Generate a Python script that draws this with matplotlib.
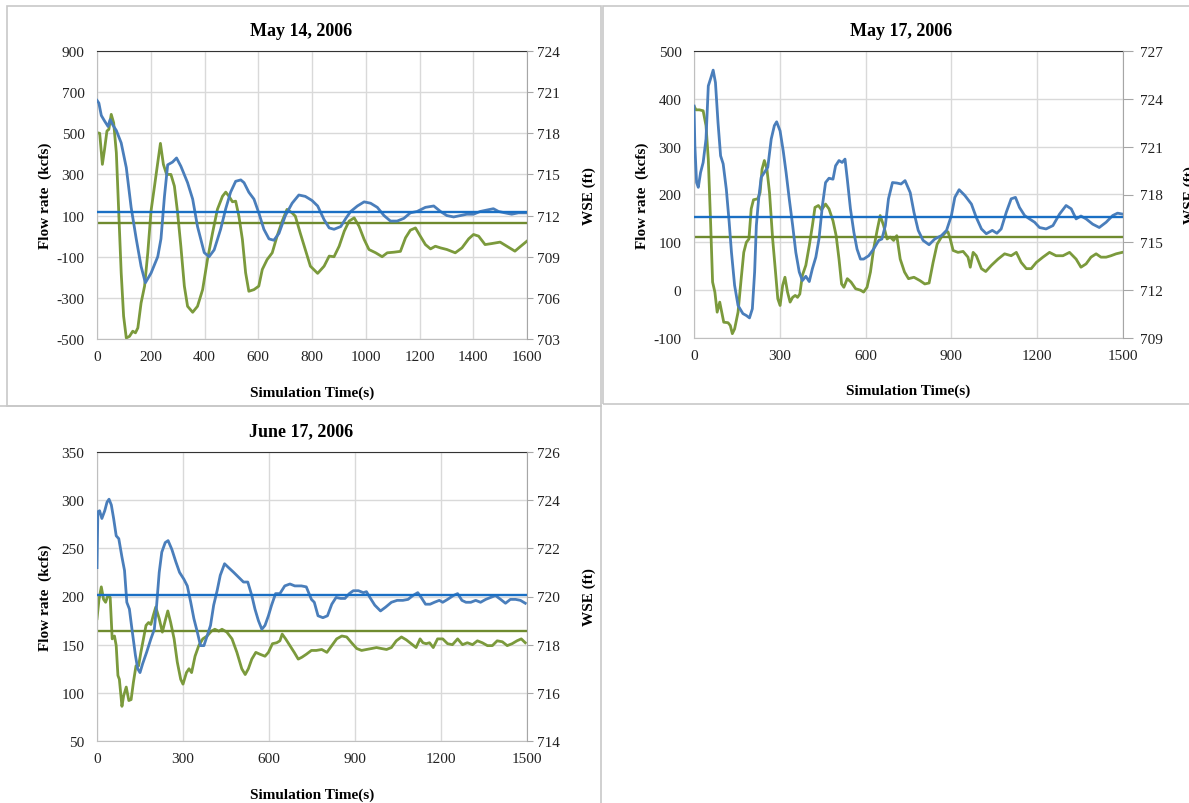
import matplotlib
matplotlib.use("Agg")
from matplotlib import pyplot as plt
from matplotlib.patches import Rectangle

plt.rcParams["font.family"] = ["Liberation Serif", "DejaVu Serif"]
plt.rcParams["axes.unicode_minus"] = False

# ---------------- May 14, 2006 ----------------
t1_flow = [0, 10, 20, 28, 37, 44, 53, 62, 72, 81, 90, 99, 109, 121, 133, 143, 152, 164, 177, 189,
           201, 214, 226, 236, 247, 259, 275, 288, 300, 312, 325, 337, 356, 374, 393, 411, 430, 448, 467, 479,
           491, 504, 516, 528, 541, 553, 565, 584, 602, 615, 633, 652, 670, 689, 707, 726, 738, 756, 775, 794,
           821, 845, 864, 882, 901, 920, 938, 957, 975, 994, 1012, 1037, 1061, 1080, 1105, 1129, 1148, 1166, 1185, 1203,
           1222, 1241, 1259, 1278, 1302, 1333, 1358, 1383, 1401, 1420, 1444, 1469, 1500, 1525, 1555, 1574, 1600]
flow1 = [503, 500, 349, 421, 511, 519, 592, 551, 405, 113, -178, -389, -495, -487, -462, -470, -446, -325, -243, -81,
         122, 243, 357, 451, 349, 300, 300, 243, 113, -49, -243, -341, -370, -341, -260, -114, 16, 130, 194, 214,
         194, 167, 170, 97, -16, -178, -268, -260, -243, -162, -114, -81, 0, 73, 130, 113, 97, 16, -65, -146,
         -181, -146, -97, -100, -49, 24, 73, 89, 48, -16, -65, -81, -100, -81, -78, -74, -8, 29, 40, 0,
         -41, -62, -49, -57, -65, -81, -57, -13, 8, 0, -41, -36, -29, -49, -73, -52, -24]
t1_wse = [0, 7, 16, 28, 41, 49, 59, 72, 90, 109, 127, 146, 164, 180, 201, 226, 238, 251, 263, 281,
          296, 312, 337, 356, 374, 399, 417, 436, 460, 479, 497, 516, 535, 547, 565, 584, 602, 621, 640, 658,
          677, 701, 726, 751, 775, 800, 821, 845, 864, 882, 907, 926, 944, 969, 994, 1018, 1043, 1068, 1092, 1117,
          1142, 1166, 1191, 1222, 1253, 1278, 1302, 1327, 1352, 1376, 1401, 1426, 1450, 1475, 1494, 1518, 1543, 1568, 1600]
wse1 = [720.4, 720.2, 719.3, 718.9, 718.5, 719.0, 718.6, 718.2, 717.3, 715.5, 712.6, 710.3, 708.3, 707.1, 707.8, 709.0, 710.3, 713.4, 715.7, 715.9,
        716.2, 715.6, 714.4, 713.2, 711.2, 709.3, 709.0, 709.5, 711.0, 712.5, 713.7, 714.5, 714.6, 714.4, 713.7, 713.2, 712.2, 711.0, 710.3, 710.2,
        710.7, 712.0, 712.9, 713.5, 713.4, 713.1, 712.7, 711.7, 711.1, 711.0, 711.2, 711.8, 712.3, 712.7, 713.0, 712.9, 712.6, 712.0, 711.6, 711.6,
        711.8, 712.2, 712.3, 712.6, 712.7, 712.3, 712.0, 711.9, 712.0, 712.1, 712.1, 712.3, 712.4, 712.5, 712.3, 712.2, 712.1, 712.2, 712.2]
flow1_mean = 65
wse1_mean = 712.27

# ---------------- May 17, 2006 ----------------
t2_flow = [0, 7, 19, 32, 42, 50, 58, 65, 73, 81, 90, 98, 104, 119, 127, 134, 142, 154, 165, 174,
           183, 192, 200, 208, 223, 231, 238, 246, 255, 264, 275, 285, 293, 301, 310, 318, 327, 336, 345, 354,
           362, 370, 379, 391, 403, 414, 423, 435, 446, 460, 472, 486, 497, 507, 516, 524, 536, 549, 565, 582,
           593, 605, 617, 628, 640, 651, 663, 675, 686, 698, 709, 721, 736, 750, 769, 790, 807, 822, 836, 850,
           865, 880, 888, 896, 906, 923, 941, 958, 966, 976, 987, 1005, 1020, 1040, 1063, 1086, 1109, 1127, 1144, 1162,
           1179, 1197, 1220, 1243, 1266, 1290, 1313, 1336, 1353, 1371, 1388, 1406, 1423, 1441, 1458, 1476, 1497]
flow2 = [385, 377, 377, 375, 344, 274, 142, 17, -4, -46, -25, -49, -67, -68, -74, -91, -81, -46, 24, 79,
         100, 107, 170, 189, 191, 204, 253, 271, 253, 204, 107, 38, -18, -32, 10, 27, -4, -25, -15, -11,
         -15, -8, 31, 52, 93, 135, 173, 177, 168, 180, 170, 145, 114, 65, 13, 6, 24, 17, 3, 0,
         -4, 6, 38, 86, 124, 156, 135, 107, 111, 104, 114, 65, 38, 24, 27, 20, 13, 15, 58, 96,
         111, 121, 122, 107, 83, 79, 81, 69, 48, 79, 72, 45, 39, 52, 65, 76, 72, 79, 58, 45,
         45, 58, 69, 79, 72, 72, 79, 65, 48, 55, 69, 76, 69, 69, 72, 76, 79]
t2_wse = [0, 3, 9, 15, 23, 32, 42, 50, 59, 67, 75, 84, 93, 102, 113, 123, 131, 142, 154, 171,
          183, 194, 204, 212, 218, 226, 235, 246, 258, 270, 281, 289, 301, 312, 322, 333, 345, 356, 368, 379,
          391, 403, 414, 426, 437, 449, 460, 472, 486, 495, 507, 518, 528, 536, 547, 559, 570, 582, 593, 611,
          628, 646, 657, 669, 680, 694, 709, 724, 738, 756, 769, 784, 801, 822, 842, 865, 883, 900, 912, 927,
          947, 970, 987, 1005, 1022, 1043, 1059, 1074, 1092, 1109, 1124, 1138, 1156, 1173, 1191, 1208, 1231, 1255, 1278, 1301,
          1319, 1336, 1353, 1371, 1394, 1417, 1441, 1464, 1481, 1499]
wse2 = [723.55, 721.06, 718.75, 718.45, 719.38, 720.01, 721.48, 724.81, 725.32, 725.8, 725.02, 722.5, 720.43, 719.92, 718.33, 716.26, 714.37, 712.3, 711.04, 710.53,
        710.41, 710.26, 710.83, 713.14, 716.05, 717.73, 719.08, 719.38, 719.71, 721.48, 722.32, 722.56, 721.99, 720.73, 719.38, 717.73, 716.05, 714.37, 713.14, 712.6,
        712.87, 712.54, 713.35, 714.07, 715.21, 717.31, 718.75, 719.02, 718.96, 719.8, 720.13, 720.01, 720.22, 718.96, 717.1, 715.63, 714.58, 713.95, 713.95, 714.16,
        714.58, 715.12, 715.21, 716.05, 717.73, 718.75, 718.72, 718.66, 718.87, 718.12, 716.89, 715.75, 715.12, 714.85, 715.21, 715.42, 715.75, 716.68, 717.82, 718.3,
        717.94, 717.4, 716.56, 715.84, 715.54, 715.75, 715.57, 715.84, 716.89, 717.73, 717.82, 717.19, 716.68, 716.47, 716.26, 715.93, 715.84, 716.05, 716.77, 717.31,
        717.1, 716.47, 716.65, 716.47, 716.14, 715.93, 716.26, 716.68, 716.83, 716.77]
flow2_mean = 112
wse2_mean = 716.62

# ---------------- June 17, 2006 ----------------
t3_flow = [0, 7, 15, 23, 30, 38, 46, 53, 61, 67, 73, 78, 87, 93, 102, 111, 119, 127, 136, 145,
           153, 162, 171, 180, 188, 196, 205, 217, 228, 238, 247, 257, 269, 280, 292, 300, 312, 321, 330, 342,
           355, 369, 384, 399, 411, 425, 436, 453, 471, 488, 505, 517, 528, 540, 554, 569, 586, 598, 612, 627,
           638, 646, 658, 673, 688, 702, 715, 730, 748, 765, 784, 802, 819, 836, 854, 871, 888, 906, 923, 940,
           958, 975, 992, 1010, 1027, 1044, 1062, 1079, 1096, 1113, 1127, 1137, 1148, 1160, 1173, 1188, 1206, 1223, 1240, 1258,
           1275, 1292, 1310, 1327, 1344, 1362, 1379, 1396, 1414, 1431, 1448, 1465, 1480, 1494]
flow3 = [177, 197, 210, 197, 194, 201, 199, 156, 159, 149, 118, 114, 86, 97, 106, 92, 93, 111, 128, 128,
         142, 156, 170, 173, 171, 180, 189, 177, 163, 175, 185, 173, 156, 132, 114, 109, 121, 125, 121, 138,
         149, 156, 159, 164, 166, 164, 166, 163, 156, 142, 125, 119, 125, 135, 142, 140, 138, 142, 151, 152,
         154, 161, 156, 149, 142, 135, 137, 140, 144, 144, 145, 142, 149, 156, 159, 158, 152, 146, 144, 145,
         146, 147, 146, 145, 147, 154, 158, 155, 151, 147, 156, 152, 151, 152, 147, 156, 156, 151, 150, 156,
         150, 152, 150, 154, 152, 149, 149, 154, 153, 149, 151, 154, 156, 152]
t3_wse = [0, 3, 9, 17, 27, 35, 42, 50, 58, 67, 76, 87, 96, 104, 113, 122, 134, 142, 150, 159,
          173, 188, 200, 208, 217, 226, 238, 248, 261, 275, 288, 303, 315, 327, 338, 350, 361, 373, 384, 396,
          407, 419, 430, 445, 459, 477, 494, 511, 526, 540, 551, 563, 575, 586, 598, 609, 623, 638, 655, 673,
          690, 713, 730, 748, 758, 771, 788, 804, 819, 834, 850, 865, 880, 894, 912, 929, 940, 952, 969, 989,
          1007, 1027, 1047, 1067, 1085, 1102, 1119, 1131, 1146, 1162, 1177, 1194, 1206, 1223, 1243, 1258, 1273, 1287, 1304, 1321,
          1338, 1356, 1373, 1390, 1408, 1425, 1442, 1460, 1477, 1494]
wse3 = [721.2, 723.52, 723.56, 723.24, 723.56, 723.92, 724.04, 723.8, 723.24, 722.52, 722.4, 721.64, 721.08, 719.76, 719.48, 718.64, 717.56, 717.0, 716.84, 717.2,
        717.68, 718.24, 718.64, 719.64, 721.0, 721.84, 722.24, 722.32, 721.96, 721.44, 721.0, 720.72, 720.44, 719.76, 719.08, 718.52, 717.96, 717.96, 718.36, 718.8,
        719.64, 720.24, 720.88, 721.36, 721.2, 721.0, 720.8, 720.6, 720.6, 720.04, 719.48, 719.0, 718.64, 718.8, 719.2, 719.64, 720.12, 720.12, 720.44, 720.52,
        720.44, 720.44, 720.4, 719.88, 719.76, 719.2, 719.12, 719.2, 719.68, 719.96, 719.92, 719.92, 720.12, 720.24, 720.24, 720.16, 720.2, 719.96, 719.64, 719.4,
        719.56, 719.76, 719.84, 719.84, 719.88, 720.04, 720.16, 719.96, 719.68, 719.68, 719.76, 719.84, 719.76, 719.88, 720.04, 720.12, 719.84, 719.76, 719.76, 719.84,
        719.76, 719.88, 719.96, 720.04, 719.88, 719.72, 719.88, 719.88, 719.84, 719.72]
flow3_mean = 164
wse3_mean = 720.08

# axis ticks
xt1 = [0, 200, 400, 600, 800, 1000, 1200, 1400, 1600]
yl1 = [-500, -300, -100, 100, 300, 500, 700, 900]
yr1 = [703, 706, 709, 712, 715, 718, 721, 724]
xt2 = [0, 300, 600, 900, 1200, 1500]
yl2 = [-100, 0, 100, 200, 300, 400, 500]
yr2 = [709, 712, 715, 718, 721, 724, 727]
yl3 = [50, 100, 150, 200, 250, 300, 350]
yr3 = [714, 716, 718, 720, 722, 724, 726]

GREEN = "#7b9a3c"
GREEN_MEAN = "#6f8b2f"
BLUE = "#4a7ebb"
BLUE_MEAN = "#1a6fc4"
GRID = "#d9d9d9"

W, H = 1189, 804
fig = plt.figure(figsize=(W / 100, H / 100), dpi=100)


def px_box(x0, y0, x1, y1):
    return [x0 / W, 1 - y1 / H, (x1 - x0) / W, (y1 - y0) / H]


def draw_panel(box, title, title_x, t_flow, flow, t_wse, wse, flow_mean, wse_mean, xt, yl, yr,
               rtick=4, rpad=3, wse_x=1.128):
    ax = fig.add_axes(px_box(*box))
    ax2 = ax.twinx()

    ax.plot(t_flow, flow, color=GREEN, lw=2.0, solid_joinstyle="round")
    ax.axhline(flow_mean, color=GREEN_MEAN, lw=1.7)
    ax2.plot(t_wse, wse, color=BLUE, lw=2.0, solid_joinstyle="round")
    ax2.axhline(wse_mean, color=BLUE_MEAN, lw=1.7)

    ax.set_xlim(xt[0], xt[-1])
    ax.set_ylim(yl[0], yl[-1])
    ax2.set_ylim(yr[0], yr[-1])
    ax.set_xticks(xt)
    ax.set_yticks(yl)
    ax2.set_yticks(yr)

    ax.grid(True, color=GRID, lw=1.0)
    ax.set_axisbelow(True)

    for s in ["left", "bottom"]:
        ax.spines[s].set_color("#bfbfbf")
    ax.spines["top"].set_color("#333333")
    ax.spines["right"].set_visible(False)
    for s in ["top", "left", "bottom"]:
        ax2.spines[s].set_visible(False)
    ax2.spines["right"].set_color("#a6a6a6")

    ax.tick_params(axis="x", length=0, pad=8, labelsize=11, colors="#222222")
    ax.tick_params(axis="y", length=0, pad=9, labelsize=11, colors="#222222")
    ax2.tick_params(axis="y", length=rtick, width=0.8, direction="out", color="#a6a6a6",
                    pad=rpad, labelsize=11, labelcolor="#222222")

    ax.set_xlabel("Simulation Time(s)", fontsize=11, fontweight="bold")
    ax.xaxis.set_label_coords(0.5, -0.16)
    ax.set_ylabel("Flow rate  (kcfs)", fontsize=11, fontweight="bold")
    ax.yaxis.set_label_coords(-0.105, 0.5)
    ax2.set_ylabel("WSE (ft)", fontsize=11, fontweight="bold")
    ax2.yaxis.set_label_coords(wse_x, 0.5)

    ax.text(title_x, 1.072, title, transform=ax.transAxes, ha="center", va="center",
            fontsize=13, fontweight="bold")


# panel frames
for x0, y0, x1, y1 in [(7, 7, 601, 407), (603, 7, 1196, 405), (-2, 407, 601, 810)]:
    fig.add_artist(Rectangle((x0 / W, 1 - y1 / H), (x1 - x0) / W, (y1 - y0) / H,
                             transform=fig.transFigure, fill=False, edgecolor="#c8c8c8", lw=1.2))

draw_panel((97, 52, 527, 340), "May 14, 2006", 0.475,
           t1_flow, flow1, t1_wse, wse1, flow1_mean, wse1_mean, xt1, yl1, yr1)
draw_panel((694, 52, 1123, 339), "May 17, 2006", 0.482,
           t2_flow, flow2, t2_wse, wse2, flow2_mean, wse2_mean, xt2, yl2, yr2,
           rtick=7, rpad=5, wse_x=1.142)
draw_panel((97, 453, 527, 742), "June 17, 2006", 0.475,
           t3_flow, flow3, t3_wse, wse3, flow3_mean, wse3_mean, xt2, yl3, yr3)

fig.savefig("out.png", dpi=100)
